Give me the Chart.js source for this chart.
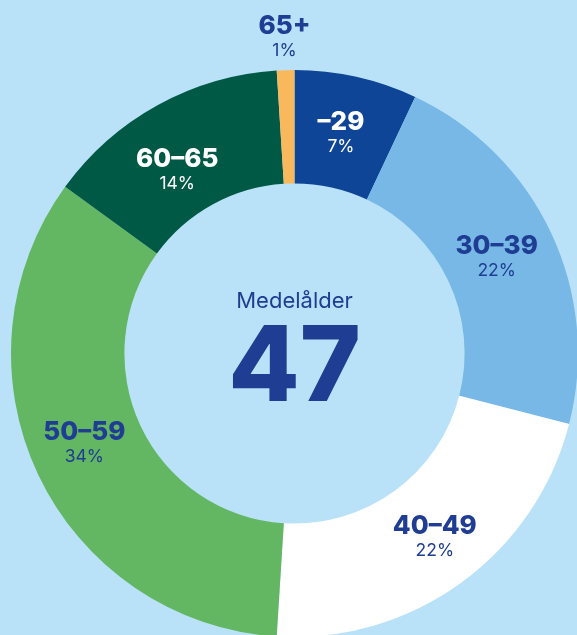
<!DOCTYPE html>
<html>
<head>
<meta charset="utf-8">
<script src="https://cdn.jsdelivr.net/npm/chart.js@4.4.1/dist/chart.umd.min.js"></script>
<style>
  html, body { margin: 0; padding: 0; background: #b9e2f8; overflow: hidden; }
  #wrap { position: absolute; left: 0; top: 0; width: 600px; height: 660px; }
</style>
</head>
<body>
<div id="wrap"><canvas id="ageChart" width="600" height="660"></canvas></div>
<script>
// Åldersfördelning
const ageGroups = ["–29", "30–39", "40–49", "50–59", "60–65", "65+"];
const shares = [7, 22, 22, 34, 14, 1];
const sliceColors = ["#0f4596", "#77b8e6", "#ffffff", "#63b662", "#005945", "#fab85c"];
const labelColors = ["#ffffff", "#1f3d93", "#1f3d93", "#1f3d93", "#ffffff", "#1f3d93"];
const centerTitle = "Medelålder";
const centerValue = "47";

const fontFamily = "Inter, 'Open Sans', sans-serif";
const darkBlue = "#1f3d93";
// små justeringar av etiketternas läge (px)
const labelNudge = [[-3, 2], [-3, 1], [7, 1], [-5, -6], [-8, 16], [0, 4]];

// etiketter på varje segment + text i mitten
const labelPlugin = {
  id: "sliceLabels",
  afterDatasetsDraw(chart) {
    const ctx = chart.ctx;
    const meta = chart.getDatasetMeta(0);
    ctx.save();
    ctx.textAlign = "center";
    ctx.textBaseline = "middle";

    meta.data.forEach((arc, i) => {
      const mid = (arc.startAngle + arc.endAngle) / 2;
      let r = (arc.innerRadius + arc.outerRadius) / 2;
      if (shares[i] < 3) r = arc.outerRadius + 36; // för smalt, lägg utanför
      const x = arc.x + Math.cos(mid) * r + labelNudge[i][0];
      const y = arc.y + Math.sin(mid) * r + labelNudge[i][1];

      ctx.fillStyle = labelColors[i];
      ctx.font = `800 26px ${fontFamily}`;
      ctx.fillText(ageGroups[i], x, y - 12);
      ctx.font = `400 17.5px ${fontFamily}`;
      ctx.fillText(shares[i] + "%", x, y + 13);
    });

    const cx = meta.data[0].x;
    const cy = meta.data[0].y;
    ctx.fillStyle = darkBlue;
    ctx.font = `400 22px ${fontFamily}`;
    ctx.fillText(centerTitle, cx, cy - 52);
    ctx.font = `800 104px ${fontFamily}`;
    ctx.fillText(centerValue, cx, cy + 16);
    ctx.restore();
  }
};

const ctx = document.getElementById("ageChart").getContext("2d");
new Chart(ctx, {
  type: "doughnut",
  data: {
    labels: ageGroups,
    datasets: [{
      data: shares,
      backgroundColor: sliceColors,
      borderWidth: 0
    }]
  },
  options: {
    responsive: false,
    animation: false,
    cutout: "60%",
    layout: { padding: { left: 11, top: 70, right: 22, bottom: 23 } },
    plugins: {
      legend: { display: false },
      tooltip: { enabled: false }
    }
  },
  plugins: [labelPlugin]
});
</script>
</body>
</html>
